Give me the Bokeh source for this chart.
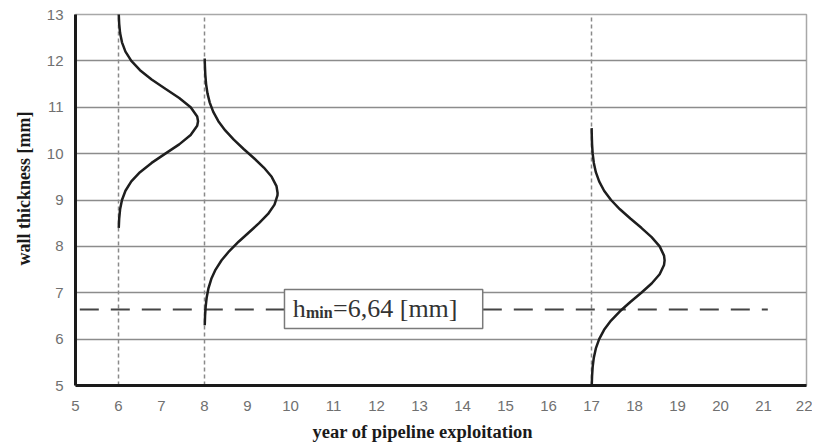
from bokeh.plotting import figure
from bokeh.models import FixedTicker, Label, Range1d, Title
from bokeh.embed import file_html
from bokeh.resources import INLINE

# ---- data ----
x_ticks = list(range(5, 23))
y_ticks = list(range(5, 14))

base_years = [6, 8, 17]
h_min = 6.64
h_min_label = ["h", "min", "=6,64 [mm]"]
x_title = "year of pipeline exploitation"
y_title = "wall thickness [mm]"

# curve at year 6: wall thickness vs horizontal width of density
thick_6 = [8.4, 8.6, 8.8, 9.0, 9.2, 9.4, 9.6, 9.8, 10.0, 10.2, 10.4, 10.6, 10.7,
           10.8, 11.0, 11.2, 11.4, 11.6, 11.8, 12.0, 12.2, 12.4, 12.6, 12.8, 13.0, 13.1]
width_6 = [0.006, 0.016, 0.037, 0.081, 0.162, 0.298, 0.500, 0.770, 1.089, 1.412, 1.678, 1.830, 1.850,
           1.830, 1.678, 1.412, 1.089, 0.770, 0.500, 0.298, 0.162, 0.081, 0.037, 0.016, 0.006, 0.004]

# curve at year 8
thick_8 = [6.3, 6.5, 6.7, 6.9, 7.1, 7.3, 7.5, 7.7, 7.9, 8.1, 8.3, 8.5, 8.7, 8.9, 9.1, 9.15,
           9.3, 9.5, 9.7, 9.9, 10.1, 10.3, 10.5, 10.7, 10.9, 11.1, 11.3, 11.5, 11.7, 11.9, 12.05]
width_8 = [0.006, 0.013, 0.027, 0.051, 0.093, 0.159, 0.258, 0.397, 0.577, 0.793, 1.031, 1.269, 1.478, 1.628, 1.697, 1.700,
           1.674, 1.562, 1.379, 1.152, 0.910, 0.681, 0.482, 0.322, 0.204, 0.122, 0.069, 0.037, 0.019, 0.009, 0.005]

# curve at year 17
thick_17 = [5.0, 5.2, 5.4, 5.6, 5.8, 6.0, 6.2, 6.4, 6.6, 6.8, 7.0, 7.2, 7.4, 7.6, 7.7,
            7.8, 8.0, 8.2, 8.4, 8.6, 8.8, 9.0, 9.2, 9.4, 9.6, 9.8, 10.0, 10.2, 10.4, 10.55]
width_17 = [0.006, 0.013, 0.027, 0.054, 0.101, 0.178, 0.293, 0.454, 0.661, 0.903, 1.159, 1.398, 1.585, 1.687, 1.700,
            1.687, 1.585, 1.398, 1.159, 0.903, 0.661, 0.454, 0.293, 0.178, 0.101, 0.054, 0.027, 0.013, 0.006, 0.003]

curves = [(thick_6, width_6), (thick_8, width_8), (thick_17, width_17)]

# ---- figure ----
p = figure(width=812, height=447, x_range=Range1d(5, 22), y_range=Range1d(5, 13),
           output_backend="svg", toolbar_location=None,
           min_border_left=75, min_border_top=14, min_border_right=6, min_border_bottom=62)

p.background_fill_color = "white"
p.border_fill_color = "white"
p.outline_line_color = "#a8a8a8"
p.outline_line_width = 1.5

p.xgrid.visible = False
p.ygrid.ticker = FixedTicker(ticks=y_ticks)
p.ygrid.grid_line_color = "#8c8c8c"
p.ygrid.grid_line_width = 1.5

for ax in (p.xaxis, p.yaxis):
    ax.axis_line_width = 3
    ax.axis_line_color = "#1a1a1a"
    ax.major_tick_line_color = None
    ax.minor_tick_line_color = None
    ax.major_tick_out = 0
    ax.major_tick_in = 0
    ax.major_label_text_font = "Liberation Sans"
    ax.major_label_text_font_size = "15px"
    ax.major_label_text_color = "#707070"

p.xaxis.ticker = FixedTicker(ticks=x_ticks)
p.yaxis.ticker = FixedTicker(ticks=y_ticks)
p.xaxis.major_label_standoff = 15
p.yaxis.major_label_standoff = 12

# axis titles
p.add_layout(Title(text=x_title, align="left", offset=237, standoff=12,
                   text_font="Liberation Serif", text_font_style="bold",
                   text_font_size="18.5px", text_color="#1a1a1a"), "below")
p.add_layout(Title(text=y_title, align="left", offset=120, standoff=20,
                   text_font="Liberation Serif", text_font_style="bold",
                   text_font_size="18px", text_color="#1a1a1a"), "left")

# vertical dashed guide lines
p.segment(x0=base_years, y0=[5] * len(base_years), x1=base_years, y1=[13] * len(base_years),
          line_color="#8a8a8a", line_width=1.5, line_dash="4 3")

# minimum thickness dashed line
p.line(x=[5.1, 21.1], y=[h_min, h_min], line_color="#444444", line_width=2, line_dash="19 12")

# label box
p.quad(left=[9.86], right=[14.47], bottom=[6.23], top=[7.07],
       fill_color="white", line_color="#7a7a7a", line_width=1.5)

p.add_layout(Label(x=10.05, y=6.66, text=h_min_label[0], text_font="Liberation Serif",
                   text_font_size="26px", text_baseline="alphabetic", text_color="#333333"))
p.add_layout(Label(x=10.36, y=6.58, text=h_min_label[1], text_font="Liberation Serif",
                   text_font_style="bold", text_font_size="16px", text_baseline="alphabetic",
                   text_color="#333333"))
p.add_layout(Label(x=10.99, y=6.66, text=h_min_label[2], text_font="Liberation Serif",
                   text_font_size="26px", text_baseline="alphabetic", text_color="#333333"))

# density curves
for base, (th, wd) in zip(base_years, curves):
    p.line(x=[base + w for w in wd], y=th, line_color="#1e1e1e", line_width=2.5)

open("out.html", "w").write(file_html(p, INLINE))
